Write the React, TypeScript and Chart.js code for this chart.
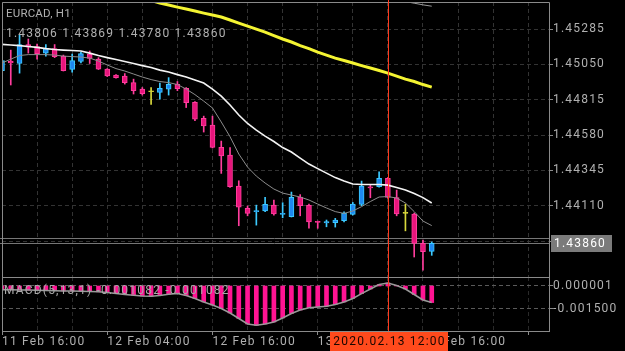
import React, { useEffect, useRef } from 'react';
import { Chart, registerables } from 'chart.js';

Chart.register(...registerables);

// ---------- data ----------
const symbolLabel = 'EURCAD, H1';
const timeLabels = ['11 Feb 16:00', '12 Feb 04:00', '12 Feb 16:00', '13 Feb 04:00', '13 Feb 16:00'];
const barsPerLabel = 12;
const gridBars = [0, 4, 8, 12, 16, 20, 24, 28, 32, 36, 40, 44, 48, 52, 56, 60];

const open = [
  1.45009, 1.45072, 1.45056, 1.45182, 1.45169, 1.45125, 1.45155, 1.45105, 1.45016, 1.45069,
  1.45119, 1.45085, 1.45019, 1.44979, 1.44972, 1.44929, 1.44886, 1.44868, 1.44864, 1.44886,
  1.44917, 1.44891, 1.44797, 1.44691, 1.44647, 1.44498, 1.44447, 1.44241, 1.44092, 1.44071,
  1.44075, 1.44114, 1.44053, 1.44037, 1.44168, 1.44112, 1.44002, 1.43995, 1.43997, 1.44010,
  1.44053, 1.44119, 1.44234, 1.44236, 1.44292, 1.44164, 1.44059, 1.44055, 1.43860, 1.43806,
];
const high = [
  1.45085, 1.45145, 1.45245, 1.45219, 1.45185, 1.45182, 1.45182, 1.45112, 1.45119, 1.45132,
  1.45139, 1.45095, 1.45022, 1.44982, 1.44989, 1.44952, 1.44896, 1.44896, 1.44926, 1.44962,
  1.44936, 1.44896, 1.44803, 1.44706, 1.44706, 1.44540, 1.44496, 1.44276, 1.44108, 1.44114,
  1.44166, 1.44148, 1.44130, 1.44201, 1.44184, 1.44121, 1.44008, 1.44015, 1.44026, 1.44070,
  1.44132, 1.44274, 1.44252, 1.44336, 1.44297, 1.44214, 1.44121, 1.44061, 1.43882, 1.43869,
];
const low = [
  1.44999, 1.44913, 1.44992, 1.45125, 1.45085, 1.45105, 1.45095, 1.45006, 1.44999, 1.45059,
  1.45056, 1.45016, 1.44969, 1.44959, 1.44919, 1.44853, 1.44846, 1.44783, 1.44819, 1.44846,
  1.44875, 1.44763, 1.44675, 1.44600, 1.44494, 1.44325, 1.44231, 1.43977, 1.44043, 1.43981,
  1.44070, 1.44048, 1.44030, 1.44035, 1.44043, 1.43960, 1.43960, 1.43970, 1.43968, 1.44003,
  1.44048, 1.44110, 1.44163, 1.44234, 1.44161, 1.44043, 1.43943, 1.43769, 1.43682, 1.43780,
];
const close = [
  1.45075, 1.45059, 1.45182, 1.45165, 1.45122, 1.45155, 1.45102, 1.45008, 1.45075, 1.45122,
  1.45089, 1.45019, 1.44974, 1.44962, 1.44929, 1.44876, 1.44856, 1.44868, 1.44891, 1.44917,
  1.44889, 1.44796, 1.44686, 1.44640, 1.44498, 1.44442, 1.44236, 1.44101, 1.44059, 1.44075,
  1.44119, 1.44055, 1.44057, 1.44166, 1.44111, 1.44003, 1.43999, 1.44005, 1.44015, 1.44059,
  1.44121, 1.44241, 1.44229, 1.44292, 1.44166, 1.44055, 1.44059, 1.43860, 1.43804, 1.43860,
];

// moving averages
const maWhite = [
  1.45183, 1.45179, 1.45175, 1.45169, 1.45163, 1.45155, 1.45149, 1.45145, 1.45142, 1.45139,
  1.45125, 1.45109, 1.45095, 1.45082, 1.45069, 1.45056, 1.45042, 1.45029, 1.45012, 1.44999,
  1.44982, 1.44966, 1.44946, 1.44926, 1.44886, 1.44839, 1.44780, 1.44713, 1.44657, 1.44613,
  1.44573, 1.44537, 1.44497, 1.44467, 1.44427, 1.44387, 1.44357, 1.44327, 1.44297, 1.44274,
  1.44254, 1.44251, 1.44251, 1.44251, 1.44247, 1.44231, 1.44214, 1.44191, 1.44164, 1.44128,
];
const maGray = [
  1.45059, 1.45085, 1.45109, 1.45115, 1.45115, 1.45115, 1.45112, 1.45105, 1.45102, 1.45099,
  1.45092, 1.45072, 1.45046, 1.45022, 1.45006, 1.44986, 1.44966, 1.44949, 1.44936, 1.44929,
  1.44916, 1.44886, 1.44849, 1.44806, 1.44760, 1.44667, 1.44569, 1.44454, 1.44367, 1.44307,
  1.44261, 1.44221, 1.44194, 1.44181, 1.44168, 1.44148, 1.44121, 1.44095, 1.44071, 1.44059,
  1.44075, 1.44104, 1.44138, 1.44168, 1.44171, 1.44161, 1.44128, 1.44071, 1.44008, 1.43978,
];
const maYellow = [
  null, null, null, null, null, null, null, null, null, null,
  null, null, null, null, 1.45524, 1.45508, 1.45491, 1.45475, 1.45458, 1.45445,
  1.45431, 1.45418, 1.45405, 1.45391, 1.45378, 1.45365, 1.45345, 1.45325, 1.45305, 1.45285,
  1.45265, 1.45242, 1.45219, 1.45199, 1.45175, 1.45155, 1.45132, 1.45112, 1.45092, 1.45076,
  1.45059, 1.45042, 1.45026, 1.45009, 1.44992, 1.44972, 1.44952, 1.44936, 1.44916, 1.44899,
];
const maSlow = [
  null, null, null, null, null, null, null, null, null, null,
  null, null, null, null, null, null, null, null, null, null,
  null, null, null, null, null, null, null, null, null, null,
  null, null, null, null, null, null, null, null, null, null,
  null, null, null, null, 1.45488, 1.45478, 1.45468, 1.45457, 1.45446, 1.45437,
];

// MACD(5,13,1)
const macd = [
  -0.000240, -0.000247, -0.000260, -0.000267, -0.000280, -0.000293, -0.000306, -0.000319, -0.000325, -0.000338,
  -0.000358, -0.000378, -0.000423, -0.000488, -0.000554, -0.000606, -0.000652, -0.000671, -0.000619, -0.000541,
  -0.000488, -0.000619, -0.000815, -0.001043, -0.001239, -0.001467, -0.001761, -0.002120, -0.002479, -0.002564,
  -0.002479, -0.002348, -0.002087, -0.001793, -0.001565, -0.001415, -0.001369, -0.001324, -0.001206, -0.001043,
  -0.000815, -0.000502, -0.000195, 0.000099, 0.000197, 0.000034, -0.000195, -0.000554, -0.000913, -0.001082,
];

const priceTicks = [1.45285, 1.4505, 1.44815, 1.4458, 1.44345, 1.4411, 1.43875];
const macdTicks = [0.000001, -0.0015];
const bidPrice = 1.4386;
const askPrice = 1.43895;
const cursorBar = 44;
const cursorLabel = '2020.02.13 12:00';

// axis bounds
const xMin = 0;
const xMax = 62.37;
const priceMin = 1.43636;
const priceMax = 1.45465;
const macdMin = -0.002936;
const macdMax = 0.000588;

// ---------- styles ----------
const FONT = 'Roboto';
const gridColor = '#333333';
const frameColor = '#8a8a8a';
const labelColor = '#b0b0b0';
const upFill = '#1e88f0';
const upEdge = '#3ccaff';
const downFill = '#e8157c';
const downEdge = '#ff3d9d';
const dojiColor = '#d8d83c';

const dir = (i: number) => (close[i] > open[i] ? 1 : close[i] < open[i] ? -1 : 0);
const idx = open.map((_, i) => i);

function setSpacing(ctx: any, px: number) {
  ctx.letterSpacing = px + 'px';
}

export default function App() {
  const mainRef = useRef<HTMLCanvasElement>(null);
  const macdRef = useRef<HTMLCanvasElement>(null);

  useEffect(() => {
    document.body.style.margin = '0';
    document.body.style.background = '#000';
    Chart.defaults.font.family = FONT;

    const last = open.length - 1;

    const mainDeco = {
      id: 'mainDeco',
      beforeDraw(chart: any) {
        setSpacing(chart.ctx, 1.2);
      },
      beforeDatasetsDraw(chart: any) {
        const { ctx, chartArea, scales } = chart;
        ctx.save();
        ctx.strokeStyle = '#767676';
        ctx.lineWidth = 1;
        [askPrice, bidPrice].forEach((p) => {
          const y = Math.round(scales.y.getPixelForValue(p)) + 0.5;
          ctx.beginPath();
          ctx.moveTo(0, y);
          ctx.lineTo(chartArea.right, y);
          ctx.stroke();
        });
        ctx.restore();
      },
      afterDraw(chart: any) {
        const { ctx, chartArea, scales } = chart;
        ctx.save();
        // frame
        ctx.strokeStyle = frameColor;
        ctx.lineWidth = 1;
        ctx.beginPath();
        ctx.moveTo(chartArea.left + 0.5, chart.height);
        ctx.lineTo(chartArea.left + 0.5, chartArea.top + 0.5);
        ctx.lineTo(chartArea.right + 0.5, chartArea.top + 0.5);
        ctx.lineTo(chartArea.right + 0.5, chart.height);
        ctx.stroke();
        // cursor
        const cx = Math.round(scales.x.getPixelForValue(cursorBar)) + 0.5;
        ctx.strokeStyle = '#ff3a1c';
        ctx.beginPath();
        ctx.moveTo(cx, 0);
        ctx.lineTo(cx, chart.height);
        ctx.stroke();
        // header
        ctx.fillStyle = labelColor;
        ctx.textBaseline = 'middle';
        ctx.textAlign = 'left';
        setSpacing(ctx, 0.2);
        ctx.font = '11.5px ' + FONT;
        ctx.fillText(symbolLabel, 6, 14.5);
        setSpacing(ctx, 1.2);
        ctx.font = '12px ' + FONT;
        ctx.fillText(
          [open[last], high[last], low[last], close[last]].map((v) => v.toFixed(5)).join(' '),
          6,
          33.5
        );
        // bid price box
        const by = scales.y.getPixelForValue(bidPrice);
        ctx.fillStyle = '#7b7b7b';
        ctx.fillRect(chartArea.right + 2, Math.round(by) - 8, 61, 17);
        ctx.fillStyle = '#ffffff';
        ctx.fillText(bidPrice.toFixed(5), chartArea.right + 5, by + 0.5);
        ctx.restore();
      },
    };

    const line = (data: (number | null)[], color: string, width: number) => ({
      type: 'line' as const,
      data: data.map((v, i) => ({ x: i, y: v })),
      borderColor: color,
      borderWidth: width,
      pointRadius: 0,
      tension: 0,
      spanGaps: false,
    });

    const mainChart = new Chart(mainRef.current as HTMLCanvasElement, {
      type: 'bar',
      data: {
        datasets: [
          line(maYellow, '#f4f432', 3),
          line(maSlow, '#9a9a9a', 1),
          line(maWhite, '#f4f4f4', 1.6),
          line(maGray, '#8c8c8c', 1),
          {
            type: 'bar',
            data: idx.map((i) => ({ x: i, y: [open[i], close[i]] })),
            backgroundColor: idx.map((i) => (dir(i) > 0 ? upFill : dir(i) < 0 ? downFill : dojiColor)),
            borderColor: idx.map((i) => (dir(i) > 0 ? upEdge : dir(i) < 0 ? downEdge : dojiColor)),
            borderWidth: 1,
            borderSkipped: false,
            barThickness: 5,
            minBarLength: 1,
            grouped: false,
          } as any,
          {
            type: 'bar',
            data: idx.map((i) => ({ x: i, y: [low[i], high[i]] })),
            backgroundColor: idx.map((i) => (dir(i) > 0 ? upEdge : dir(i) < 0 ? downEdge : dojiColor)),
            borderWidth: 0,
            barThickness: 1,
            grouped: false,
          } as any,
        ],
      },
      options: {
        responsive: false,
        maintainAspectRatio: false,
        animation: false,
        events: [],
        layout: { padding: { left: 2, top: 2, right: 0, bottom: 0 } },
        plugins: { legend: { display: false }, tooltip: { enabled: false }, title: { display: false } },
        scales: {
          x: {
            type: 'linear',
            min: xMin,
            max: xMax,
            offset: false,
            afterBuildTicks: (s: any) => {
              s.ticks = gridBars.map((v) => ({ value: v }));
            },
            afterFit: (s: any) => {
              s.height = 0;
              s.paddingLeft = 0;
              s.paddingRight = 0;
            },
            ticks: { display: false },
            grid: { color: gridColor, drawTicks: false, offset: false },
            border: { display: false, dash: [4, 3] },
          },
          y: {
            type: 'linear',
            position: 'right',
            min: priceMin,
            max: priceMax,
            beginAtZero: false,
            afterBuildTicks: (s: any) => {
              s.ticks = priceTicks.map((v) => ({ value: v }));
            },
            afterFit: (s: any) => {
              s.width = 76;
              s.paddingTop = 0;
              s.paddingBottom = 0;
            },
            ticks: {
              color: labelColor,
              font: { family: FONT, size: 12 },
              padding: 0,
              autoSkip: false,
              callback: (v: any) => Number(v).toFixed(5),
            },
            grid: { color: gridColor, tickLength: 4, tickColor: frameColor },
            border: { display: false, dash: [4, 3] },
          },
        },
      } as any,
      plugins: [mainDeco as any],
    });

    const macdDeco = {
      id: 'macdDeco',
      beforeDraw(chart: any) {
        setSpacing(chart.ctx, 1.2);
      },
      afterDraw(chart: any) {
        const { ctx, chartArea, scales } = chart;
        ctx.save();
        ctx.strokeStyle = frameColor;
        ctx.lineWidth = 1;
        ctx.strokeRect(chartArea.left + 0.5, chartArea.top + 0.5, chartArea.right - chartArea.left, chartArea.bottom - chartArea.top);
        const cx = Math.round(scales.x.getPixelForValue(cursorBar)) + 0.5;
        ctx.strokeStyle = '#ff3a1c';
        ctx.beginPath();
        ctx.moveTo(cx, 0);
        ctx.lineTo(cx, chartArea.bottom);
        ctx.stroke();
        // label
        ctx.fillStyle = '#a8a8a8';
        ctx.textBaseline = 'middle';
        ctx.textAlign = 'left';
        ctx.font = '12px ' + FONT;
        setSpacing(ctx, 1.2);
        const v = macd[macd.length - 1].toFixed(6);
        ctx.fillText(`MACD(5,13,1) ${v} ${v}`, 4, 13.5);
        // cursor time box
        const bw = 118;
        ctx.fillStyle = '#ff4a1c';
        ctx.fillRect(Math.round(cx - bw / 2), chartArea.bottom + 1, bw, chart.height - chartArea.bottom - 1);
        ctx.fillStyle = '#1a0600';
        ctx.textAlign = 'center';
        ctx.fillText(cursorLabel, cx + 1, chartArea.bottom + 11);
        ctx.restore();
      },
    };

    const macdChart = new Chart(macdRef.current as HTMLCanvasElement, {
      type: 'bar',
      data: {
        datasets: [
          {
            type: 'line',
            data: macd.map((v, i) => ({ x: i, y: v })),
            borderColor: '#9a9a9a',
            borderWidth: 1.5,
            pointRadius: 0,
            tension: 0,
          } as any,
          {
            type: 'bar',
            data: macd.map((v, i) => ({ x: i, y: v })),
            backgroundColor: '#ff1493',
            borderWidth: 0,
            barThickness: 4,
            grouped: false,
          } as any,
        ],
      },
      options: {
        responsive: false,
        maintainAspectRatio: false,
        animation: false,
        events: [],
        layout: { padding: { left: 2, top: 0, right: 0, bottom: 0 } },
        plugins: { legend: { display: false }, tooltip: { enabled: false }, title: { display: false } },
        scales: {
          x: {
            type: 'linear',
            min: xMin,
            max: xMax,
            offset: false,
            afterBuildTicks: (s: any) => {
              s.ticks = gridBars.map((v) => ({ value: v }));
            },
            afterFit: (s: any) => {
              s.height = 20;
              s.paddingLeft = 0;
              s.paddingRight = 0;
            },
            ticks: {
              display: true,
              align: 'start',
              autoSkip: false,
              maxRotation: 0,
              minRotation: 0,
              padding: 0,
              color: labelColor,
              font: { family: FONT, size: 12 },
              callback: (v: any) => (Number(v) % barsPerLabel === 0 ? timeLabels[Number(v) / barsPerLabel] || '' : ''),
            },
            grid: {
              color: '#2a2a2a',
              offset: false,
              tickLength: 4,
              tickColor: (c: any) => (c.tick && c.tick.value % barsPerLabel === 0 ? frameColor : 'rgba(0,0,0,0)'),
            },
            border: { display: false, dash: [4, 3] },
          },
          y: {
            type: 'linear',
            position: 'right',
            min: macdMin,
            max: macdMax,
            beginAtZero: false,
            afterBuildTicks: (s: any) => {
              s.ticks = macdTicks.map((v) => ({ value: v }));
            },
            afterFit: (s: any) => {
              s.width = 76;
              s.paddingTop = 0;
              s.paddingBottom = 0;
            },
            ticks: {
              color: labelColor,
              font: { family: FONT, size: 12 },
              padding: 0,
              autoSkip: false,
              callback: (v: any) => Number(v).toFixed(6),
            },
            grid: { color: '#5a5a5a', tickLength: 4, tickColor: frameColor },
            border: { display: false, dash: [4, 3] },
          },
        },
      } as any,
      plugins: [macdDeco as any],
    });

    return () => {
      mainChart.destroy();
      macdChart.destroy();
    };
  }, []);

  return (
    <div style={{ position: 'fixed', left: 0, top: 0, width: 625, height: 351, background: '#000', overflow: 'hidden' }}>
      <canvas ref={mainRef} width={625} height={277} style={{ position: 'absolute', left: 0, top: 0, width: 625, height: 277 }} />
      <canvas ref={macdRef} width={625} height={74} style={{ position: 'absolute', left: 0, top: 277, width: 625, height: 74 }} />
    </div>
  );
}
